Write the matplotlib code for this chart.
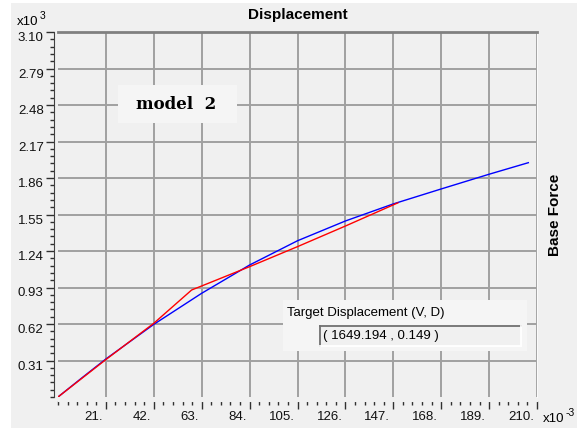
import matplotlib
matplotlib.use('Agg')
import matplotlib.pyplot as plt
from matplotlib.patches import Rectangle
from matplotlib.lines import Line2D
from matplotlib.ticker import MultipleLocator
from matplotlib.transforms import ScaledTranslation

plt.rcParams['font.family'] = ['Liberation Sans', 'DejaVu Sans']

# curva pushover (azul) e curva ate o deslocamento alvo (vermelha), x em 1e-3, y em 1e3
desloc_azul = [0, 10.5, 21, 42, 63, 84, 105, 126, 147, 168, 189, 206.2]
forca_azul = [0, 0.163, 0.323, 0.617, 0.881, 1.121, 1.327, 1.495, 1.640, 1.767, 1.892, 1.990]

desloc_verm = [0, 21, 42, 58.6, 63, 84, 105, 126, 149]
forca_verm = [0, 0.318, 0.626, 0.909, 0.943, 1.107, 1.277, 1.452, 1.649]

x_ticks = [21, 42, 63, 84, 105, 126, 147, 168, 189, 210]
x_rotulos = ['21.', '42.', '63.', '84.', '105.', '126.', '147.', '168.', '189.', '210.']
y_ticks = [0.31, 0.62, 0.93, 1.24, 1.55, 1.86, 2.17, 2.48, 2.79, 3.10]
y_rotulos = ['0.31', '0.62', '0.93', '1.24', '1.55', '1.86', '2.17', '2.48', '2.79', '3.10']

alvo_texto = '( 1649.194 , 0.149 )'

W, H = 577, 428
fig = plt.figure(figsize=(W / 100, H / 100), dpi=100)
fig.patch.set_facecolor('white')
# fundo cinza de janela
fig.add_artist(Rectangle((11 / W, 0), 1 - 11 / W, 1 - 3 / H, transform=fig.transFigure,
                         facecolor='#f0f0f0', edgecolor='none', zorder=-10))

ax = fig.add_axes([58 / W, 1 - 397 / H, 479 / W, 365 / H])
ax.set_facecolor('#f0f0f0')

ax.plot(desloc_azul, forca_azul, color='#0000ff', lw=1.0, zorder=3)
ax.plot(desloc_verm, forca_verm, color='#ff0000', lw=1.0, zorder=3)

ax.spines['left'].set_position(('outward', 3))
ax.spines['left'].set_color('#404040')
ax.spines['bottom'].set_position(('outward', 3))
ax.spines['bottom'].set_color('#f0f0f0')
ax.spines['top'].set_color('#808080')
ax.spines['top'].set_linewidth(2)
ax.spines['right'].set_color('#fafafa')

ax.set_xlim(0, 210)
ax.set_ylim(0, 3.1)
ax.set_xticks(x_ticks, x_rotulos, ha='right', fontsize=9.5)
ax.set_yticks(y_ticks, y_rotulos, va='top', fontsize=9.5)
ax.xaxis.set_minor_locator(MultipleLocator(4.2))
ax.yaxis.set_minor_locator(MultipleLocator(0.062))

ax.tick_params(which='major', length=5.8, width=1, color='#303030', pad=1.5, labelcolor='#111111')
ax.tick_params(which='minor', length=3, width=1, color='#303030')

ax.grid(True, which='major', color='#a0a0a0', lw=1.4)

# rotulos do eixo x ficam um pouco a esquerda do tick
desloca = ScaledTranslation(-3 / 100, 0, fig.dpi_scale_trans)
for t in ax.xaxis.get_major_ticks():
    t.label1.set_transform(t.label1.get_transform() + desloca)

# caixa "model 2"
ax.add_patch(Rectangle((0.1253, 0.7507), 0.2484, 0.1041, transform=ax.transAxes,
                       facecolor='#f5f5f5', edgecolor='none', zorder=5))
ax.text(0.2474, 0.8027, 'model  2', transform=ax.transAxes, ha='center', va='center',
        family='DejaVu Serif', fontweight='bold', fontsize=12, zorder=6)

# caixa do deslocamento alvo
ax.add_patch(Rectangle((0.4697, 0.1260), 0.5094, 0.1398, transform=ax.transAxes,
                       facecolor='#f5f5f5', edgecolor='none', zorder=5))
ax.text(0.4781, 0.2301, 'Target Displacement (V, D)', transform=ax.transAxes,
        ha='left', va='center', fontsize=9.5, zorder=6)
x0, x1, y0, y1 = 0.5470, 0.9666, 0.1397, 0.1945
ax.add_patch(Rectangle((x0, y0), x1 - x0, y1 - y0, transform=ax.transAxes,
                       facecolor='#f0f0f0', edgecolor='none', zorder=6))
for xs, ys, cor in [([x0, x1], [y1, y1], '#707070'), ([x0, x0], [y0, y1], '#707070'),
                    ([x0, x1], [y0, y0], '#ffffff'), ([x1, x1], [y0, y1], '#ffffff')]:
    ax.add_line(Line2D(xs, ys, transform=ax.transAxes, color=cor, lw=1.3, zorder=7))
ax.text(0.5532, 0.1671, alvo_texto, transform=ax.transAxes,
        ha='left', va='center', fontsize=9.5, zorder=8)

# titulos e multiplicadores
fig.text(298 / W, 1 - 15 / H, 'Displacement', ha='center', va='center',
         fontweight='bold', fontsize=11)
fig.text(555 / W, 1 - 215 / H, 'Base Force', ha='center', va='center',
         fontweight='bold', fontsize=11, rotation=90)
fig.text(17 / W, 1 - 25 / H, 'x10', ha='left', va='baseline', fontsize=9.5)
fig.text(40 / W, 1 - 19 / H, '3', ha='left', va='baseline', fontsize=7.5)
fig.text(543 / W, 1 - 422 / H, 'x10', ha='left', va='baseline', fontsize=9.5)
fig.text(566 / W, 1 - 416 / H, '-3', ha='left', va='baseline', fontsize=7.5)

plt.savefig('out.png', dpi=100, facecolor=fig.get_facecolor())
